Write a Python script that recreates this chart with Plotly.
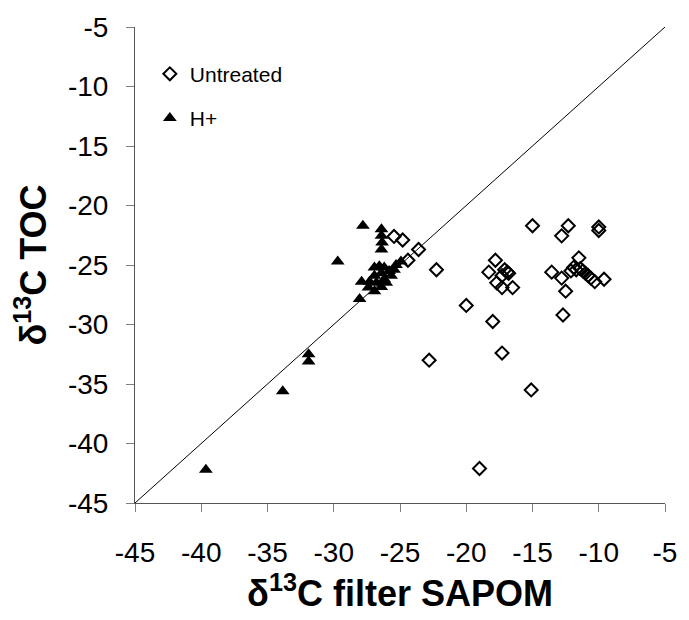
import plotly.graph_objects as go

untreated_x = [-25.45, -24.8, -23.6, -24.4, -22.25, -20.0, -18.0, -17.3, -22.8, -15.1, -19.0,
               -17.8, -18.3, -16.9, -17.3, -17.7, -17.3, -16.5, -17.1, -16.8,
               -15.0, -12.3, -12.8, -10.0, -10.0, -11.5, -13.55, -12.8, -12.1, -11.7,
               -11.2, -10.8, -10.3, -9.6, -12.5, -12.7, -11.9, -11.0, -10.6, -11.4]
untreated_y = [-22.6, -22.9, -23.7, -24.6, -25.4, -28.4, -29.75, -32.4, -33.0, -35.5, -42.1,
               -24.6, -25.6, -25.6, -25.9, -26.5, -26.9, -26.9, -25.4, -25.7,
               -21.7, -21.7, -22.55, -21.8, -22.1, -24.4, -25.6, -26.1, -25.5, -25.4,
               -25.5, -25.9, -26.4, -26.2, -27.2, -29.2, -25.2, -25.7, -26.1, -25.3]

hplus_x = [-27.8, -26.4, -26.4, -26.35, -26.4, -29.7, -27.9, -28.05, -31.9, -31.9, -33.85, -39.65,
           -26.93, -26.56, -26.19, -24.93, -25.45, -25.82, -26.41, -26.93, -27.3, -26.78,
           -26.19, -25.67, -27.38, -26.93, -26.41, -26.04, -25.3]
hplus_y = [-21.7, -22.0, -22.55, -23.1, -23.7, -24.7, -26.4, -27.85, -32.5, -33.1, -35.6, -42.2,
           -25.2, -25.1, -25.2, -24.7, -25.4, -25.5, -25.7, -25.9, -26.4, -26.5,
           -26.2, -25.9, -26.9, -27.2, -26.85, -26.5, -25.0]

line_x = [-45, -5]
line_y = [-45, -5]

tick_vals = [-45, -40, -35, -30, -25, -20, -15, -10, -5]

FONT = "Liberation Sans, Arial, sans-serif"

fig = go.Figure()
fig.add_trace(go.Scatter(x=line_x, y=line_y, mode="lines",
                         line=dict(color="black", width=1), showlegend=False,
                         hoverinfo="skip"))
fig.add_trace(go.Scatter(x=untreated_x, y=untreated_y, mode="markers", name="Untreated",
                         legendgroup="u",
                         marker=dict(symbol="diamond-open", size=10, color="black",
                                     line=dict(color="black", width=2))))
fig.add_trace(go.Scatter(x=hplus_x, y=hplus_y, mode="markers", name="H+",
                         legendgroup="h",
                         marker=dict(symbol="triangle-up", size=12, color="black",
                                     line=dict(width=0))))

axis_common = dict(
    range=[-45, -5], tickvals=tick_vals, ticktext=[str(v) for v in tick_vals],
    showgrid=False, zeroline=False, showline=True, linecolor="#555555", linewidth=1,
    ticks="outside", ticklen=8, tickcolor="#808080", tickwidth=1,
    tickfont=dict(family=FONT, size=28, color="black"),
)

fig.update_layout(
    width=689, height=620,
    margin=dict(l=135, r=16, t=20, b=117),
    paper_bgcolor="white", plot_bgcolor="white",
    xaxis=dict(**axis_common, ticklabelstandoff=16,
               title=dict(text="δ<sup>13</sup>C filter SAPOM",
                          font=dict(family=FONT, size=36, color="black", weight="bold"),
                          standoff=2)),
    yaxis=dict(**axis_common, ticklabelstandoff=12,
               title=dict(text="δ<sup>13</sup>C TOC",
                          font=dict(family=FONT, size=36, color="black", weight="bold"),
                          standoff=10)),
    legend=dict(x=0.028, y=0.944, xanchor="left", yanchor="top",
                font=dict(family=FONT, size=21, color="black"),
                bgcolor="rgba(0,0,0,0)", traceorder="grouped", tracegroupgap=14,
                itemwidth=30),
    showlegend=True,
)

fig.write_html("out.html")
